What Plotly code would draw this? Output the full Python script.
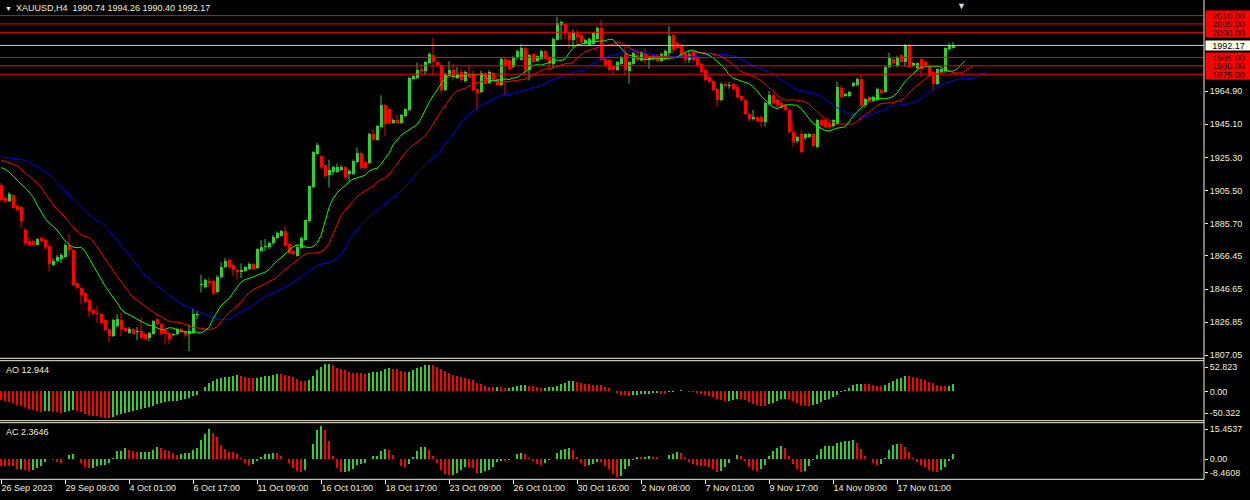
import numpy as np
import pandas as pd
import plotly.graph_objects as go

# ---------------- data ----------------
opens = [
 1908.6,1901.0,1899.2,1902.6,1896.0,1895.6,1882.0,1875.6,1875.2,1873.2,
 1877.2,1876.0,1872.6,1861.2,1863.6,1864.6,1866.0,1873.2,1870.0,1850.0,
 1847.2,1844.0,1840.0,1834.0,1832.0,1832.0,1828.0,1822.6,1818.6,1824.6,
 1828.0,1823.6,1820.6,1822.6,1821.2,1821.6,1820.0,1817.6,1820.0,1828.6,
 1826.0,1822.0,1820.6,1819.2,1819.6,1822.6,1821.6,1820.0,1820.6,1831.2,
 1848.8,1848.0,1851.6,1851.2,1844.6,1853.6,1859.6,1864.0,1861.2,1858.0,
 1856.6,1857.6,1858.6,1861.6,1859.0,1869.6,1871.6,1871.6,1874.0,1877.2,
 1878.6,1881.2,1873.6,1869.2,1866.6,1871.2,1876.0,1887.2,1907.6,1927.6,
 1925.9,1920.7,1914.7,1916.3,1916.7,1917.9,1919.3,1915.3,1915.3,1922.3,
 1927.9,1922.7,1921.9,1939.3,1935.9,1943.3,1956.7,1953.9,1945.9,1947.9,
 1945.9,1949.9,1953.3,1971.9,1972.7,1978.0,1976.7,1981.9,1986.7,1982.0,
 1980.3,1965.3,1974.3,1977.3,1972.7,1976.3,1970.7,1975.3,1974.3,1965.9,
 1964.3,1975.7,1969.7,1975.7,1972.3,1968.3,1984.3,1983.3,1979.3,1985.3,
 1983.7,1990.9,1977.3,1986.9,1982.9,1984.3,1988.9,1985.3,1981.3,1995.7,
 2004.3,2004.9,1999.7,1995.7,1998.9,1998.3,1993.3,1992.3,1993.3,1996.3,
 2002.3,1984.3,1983.3,1979.7,1977.7,1981.3,1987.3,1976.9,1981.3,1986.3,
 1983.3,1987.3,1983.3,1984.7,1986.3,1982.9,1985.7,1987.7,1998.3,1993.7,
 1992.3,1987.7,1983.7,1988.3,1984.9,1981.3,1977.7,1973.3,1970.9,1966.3,
 1959.3,1969.3,1967.7,1968.9,1967.3,1961.7,1959.7,1951.3,1948.3,1949.7,
 1949.7,1946.3,1956.9,1962.3,1959.3,1957.7,1956.3,1953.7,1940.3,1934.9,
 1939.4,1937.0,1937.4,1939.4,1931.4,1947.8,1947.4,1945.8,1943.8,1945.4,
 1967.0,1962.0,1961.8,1967.8,1968.4,1972.4,1956.4,1961.4,1959.0,1959.4,
 1965.8,1964.4,1979.0,1983.8,1979.8,1986.4,1982.4,1992.4,1979.8,1978.4,
 1983.8,1982.4,1979.8,1976.4,1969.0,1976.4,1976.4,1989.8,1990.74]
highs = [
 1910.0,1902.0,1904.5,1903.0,1897.0,1896.0,1883.0,1877.6,1876.0,1877.0,
 1878.0,1877.0,1873.0,1865.0,1867.0,1868.0,1874.0,1879.6,1870.5,1850.5,
 1847.5,1844.5,1840.5,1834.5,1836.6,1832.5,1828.5,1823.0,1829.0,1831.6,
 1832.6,1824.0,1824.0,1823.5,1824.0,1829.6,1820.5,1821.0,1828.0,1829.0,
 1826.5,1822.5,1821.0,1820.5,1823.5,1823.6,1822.0,1825.6,1835.0,1833.6,
 1855.2,1853.0,1854.0,1852.0,1855.0,1862.6,1865.2,1865.0,1862.0,1858.5,
 1862.0,1860.5,1862.5,1862.0,1871.0,1876.0,1876.6,1875.0,1879.0,1881.0,
 1882.0,1884.2,1874.0,1870.0,1873.0,1878.0,1888.0,1908.5,1929.0,1934.0,
 1926.5,1921.0,1923.9,1920.3,1921.6,1920.7,1920.0,1918.3,1924.0,1931.3,
 1929.0,1923.3,1940.0,1942.3,1944.6,1962.3,1957.3,1954.5,1948.6,1950.7,
 1951.3,1954.6,1973.3,1974.6,1981.9,1981.3,1983.0,1988.0,1996.7,1982.3,
 1981.0,1976.0,1982.7,1981.3,1979.3,1978.3,1977.3,1980.3,1977.3,1966.3,
 1977.0,1976.3,1977.3,1976.3,1973.0,1985.3,1985.3,1984.0,1986.0,1989.7,
 1992.9,1991.3,1987.0,1987.3,1986.3,1989.7,1989.3,1986.0,1997.0,2009.3,
 2007.0,2005.5,2000.3,2001.7,2001.7,1999.0,1996.3,1997.0,2000.0,2003.7,
 2007.3,1985.0,1984.0,1980.3,1983.0,1986.0,1991.7,1983.0,1988.3,1987.0,
 1989.0,1990.3,1986.0,1987.0,1987.0,1988.0,1989.7,2003.7,1999.0,1994.9,
 1993.3,1988.3,1988.9,1988.9,1985.5,1982.0,1978.3,1974.0,1971.5,1967.0,
 1970.0,1970.3,1970.3,1969.5,1968.9,1962.3,1960.3,1952.0,1953.7,1950.3,
 1950.3,1958.3,1964.9,1963.0,1960.3,1959.7,1957.0,1954.3,1946.3,1938.3,
 1941.4,1939.8,1940.0,1940.0,1948.4,1948.4,1948.4,1946.4,1948.0,1970.4,
 1968.4,1964.0,1965.0,1970.4,1973.0,1974.4,1961.0,1962.0,1962.0,1967.0,
 1966.4,1980.0,1987.8,1984.4,1986.0,1987.0,1993.0,1993.0,1982.4,1982.0,
 1984.4,1983.0,1980.4,1977.0,1978.4,1978.4,1991.0,1993.8,1994.26]
lows = [
 1899.0,1898.0,1898.5,1894.5,1893.0,1883.6,1872.6,1872.6,1872.5,1872.8,
 1874.5,1870.0,1857.2,1860.5,1863.0,1862.0,1865.5,1866.6,1848.5,1846.5,
 1837.6,1838.0,1830.0,1831.0,1826.6,1826.0,1821.5,1814.6,1818.0,1823.6,
 1818.6,1821.0,1820.0,1819.5,1816.0,1817.0,1816.0,1815.6,1819.5,1825.0,
 1819.0,1813.6,1813.6,1818.6,1819.0,1820.5,1818.0,1809.6,1820.0,1828.6,
 1844.6,1847.0,1847.6,1843.0,1844.0,1853.0,1859.0,1859.0,1854.6,1852.6,
 1853.2,1857.0,1858.0,1858.0,1858.5,1868.6,1869.2,1870.5,1873.0,1876.5,
 1878.0,1872.0,1867.5,1867.0,1866.0,1870.6,1875.6,1886.6,1907.0,1927.0,
 1918.5,1913.0,1907.3,1914.7,1916.0,1917.3,1912.3,1911.3,1914.7,1921.6,
 1918.0,1918.0,1921.3,1935.3,1935.3,1942.6,1937.9,1945.3,1945.3,1945.3,
 1945.3,1949.3,1952.7,1971.3,1972.0,1974.7,1974.7,1981.3,1974.3,1979.7,
 1963.7,1964.7,1973.7,1971.3,1972.0,1970.7,1970.0,1972.7,1964.7,1953.3,
 1963.7,1968.7,1969.0,1971.0,1967.7,1967.7,1962.3,1977.7,1978.7,1983.3,
 1983.3,1974.3,1971.3,1981.7,1982.3,1983.7,1983.7,1977.3,1978.3,1995.0,
 1995.7,1995.7,1990.3,1990.9,1991.0,1993.7,1992.7,1991.7,1992.7,1995.7,
 1982.7,1979.7,1977.0,1974.9,1977.0,1980.7,1974.3,1969.3,1980.7,1983.0,
 1982.7,1981.3,1978.3,1983.3,1982.3,1982.3,1983.7,1985.3,1987.3,1990.3,
 1985.0,1981.3,1981.7,1982.7,1979.7,1975.7,1971.0,1969.7,1964.7,1955.7,
 1958.7,1966.3,1966.3,1965.7,1960.7,1958.7,1950.7,1946.3,1947.3,1946.7,
 1943.7,1943.7,1956.3,1957.0,1954.9,1954.3,1953.0,1939.7,1931.7,1933.7,
 1927.8,1935.4,1936.8,1931.2,1930.8,1943.8,1942.8,1942.0,1943.2,1944.8,
 1960.8,1961.4,1961.2,1967.2,1967.8,1955.4,1955.0,1957.8,1958.4,1958.8,
 1963.2,1963.8,1978.4,1981.2,1979.2,1981.8,1979.4,1978.8,1979.2,1977.8,
 1973.4,1979.2,1973.8,1965.4,1968.4,1975.8,1975.8,1989.0,1990.40]
closes = [
 1899.6,1899.0,1903.6,1895.2,1894.0,1887.2,1874.0,1873.2,1873.2,1876.6,
 1875.2,1872.0,1861.6,1863.6,1866.0,1867.2,1873.2,1870.0,1849.2,1847.2,
 1843.2,1838.6,1833.6,1831.6,1831.6,1826.6,1822.0,1818.6,1828.0,1828.6,
 1822.6,1821.6,1822.6,1820.0,1821.6,1817.6,1816.6,1820.6,1827.6,1825.6,
 1819.6,1819.6,1816.6,1820.0,1822.6,1821.6,1819.2,1821.6,1832.0,1832.0,
 1849.4,1852.0,1850.0,1844.0,1854.0,1860.0,1863.6,1859.6,1858.0,1856.6,
 1858.0,1859.6,1861.6,1858.6,1870.6,1872.0,1872.6,1874.0,1878.0,1880.0,
 1881.6,1872.6,1868.0,1867.6,1872.0,1877.2,1887.6,1908.0,1928.6,1932.6,
 1919.3,1914.3,1917.9,1919.3,1919.3,1919.3,1913.3,1917.3,1923.3,1927.9,
 1918.7,1918.7,1939.3,1935.9,1943.9,1956.7,1945.3,1945.9,1947.9,1945.9,
 1950.7,1953.9,1972.7,1973.9,1977.3,1976.7,1982.3,1987.3,1982.3,1980.3,
 1965.3,1975.3,1977.3,1973.3,1975.3,1971.3,1976.3,1973.3,1965.3,1963.9,
 1976.0,1969.3,1976.3,1971.7,1968.3,1984.3,1980.3,1978.3,1985.3,1988.9,
 1990.9,1977.7,1986.3,1982.3,1985.7,1988.9,1984.3,1981.3,1996.3,2005.7,
 2006.3,1999.3,1995.7,1999.3,1997.3,1994.3,1995.7,1996.3,1999.3,2002.3,
 1983.3,1980.3,1977.7,1977.7,1982.3,1985.3,1977.3,1982.3,1987.7,1983.7,
 1988.3,1983.7,1985.3,1985.7,1982.9,1987.3,1988.9,1997.7,1989.3,1990.9,
 1985.7,1983.7,1986.9,1983.3,1980.3,1976.3,1971.7,1970.3,1965.3,1959.3,
 1969.3,1967.7,1968.3,1966.3,1961.3,1959.3,1951.3,1948.3,1949.7,1947.3,
 1946.3,1957.7,1962.3,1957.7,1956.3,1954.9,1953.7,1940.3,1934.3,1937.7,
 1928.4,1939.0,1939.4,1931.8,1947.8,1944.4,1943.4,1943.4,1947.4,1967.4,
 1961.4,1963.4,1964.2,1969.8,1972.4,1956.4,1960.4,1958.4,1961.4,1966.4,
 1963.8,1979.4,1984.4,1981.8,1985.4,1982.4,1992.4,1979.4,1981.8,1981.4,
 1977.8,1979.8,1974.4,1969.4,1977.8,1977.8,1990.4,1991.8,1992.17]

# Alligator values visible at the left edge (computed from bars before the window)
jaw_seed = [1925.6, 1925.4, 1925.2, 1925.0, 1924.4, 1924.0, 1923.6, 1922.6]
teeth_seed = [1923.6, 1923.0, 1922.2, 1921.2, 1920.2]
lips_seed = [1919.2, 1918.2, 1916.6]

# AO / AC values at the left edge (need bars before the window)
ao_head = [-15.0, -16.1, -19.0, -20.7, -23.0, -24.8, -27.6, -30.5, -32.3, -33.4,
           -34.6, -34.0, -33.4, -34.6, -35.7, -36.3, -35.1, -33.4, -32.3, -34.0,
           -35.7, -38.0, -39.7, -41.5, -42.6, -43.8, -44.9, -45.5, -43.8, -40.3,
           -39.2, -36.3, -35.1]
ac_head = [-2.8, -3.1, -3.1, -3.1]

time_labels = ["26 Sep 2023", "29 Sep 09:00", "4 Oct 01:00", "6 Oct 17:00", "11 Oct 09:00",
               "16 Oct 01:00", "18 Oct 17:00", "23 Oct 09:00", "26 Oct 01:00", "30 Oct 16:00",
               "2 Nov 08:00", "7 Nov 01:00", "9 Nov 17:00", "14 Nov 09:00", "17 Nov 01:00"]
label_step = 16

price_ticks = [1964.90, 1945.10, 1925.30, 1905.50, 1885.70, 1866.45, 1846.65, 1826.85, 1807.05]
level_lines = [2010.00, 2005.00, 2000.00, 1985.00, 1980.00, 1975.00]
bid_price = 1992.17
main_range = [1805.26, 2019.31]
ao_range = [-50.322, 52.823]
ac_range = [-8.4608, 15.4537]
header = "XAUUSD,H4\u00a0\u00a01990.74 1994.26 1990.40 1992.17"
ao_title = "AO 12.944"
ac_title = "AC 2.3646"

# ---------------- derived series ----------------
O = np.array(opens); H = np.array(highs); L = np.array(lows); C = np.array(closes)
n = len(C)
idx = np.arange(n)
med = (H + L) / 2.0


def smma_line(seed, period, price):
    out = list(seed)
    prev = seed[-1]
    for p in price:
        prev = (prev * (period - 1) + p) / period
        out.append(prev)
    return np.array(out)


jaw = smma_line(jaw_seed, 13, med)
teeth = smma_line(teeth_seed, 8, med)
lips = smma_line(lips_seed, 5, med)

ms = pd.Series(med)
ao = (ms.rolling(5).mean() - ms.rolling(34).mean()).to_numpy()
ao[:len(ao_head)] = ao_head
aos = pd.Series(ao)
ac = (aos - aos.rolling(5).mean()).to_numpy()
ac[:len(ac_head)] = ac_head

GREEN = "#32CD32"
RED = "#FF0000"
CREAM = "#F2EFD8"
FONT = "Liberation Sans, Arial, sans-serif"


def updown_colors(v):
    cols = [RED]
    for i in range(1, len(v)):
        cols.append(GREEN if v[i] > v[i - 1] else RED)
    return cols


fig = go.Figure()

# wicks
for mask, col in [(C >= O, GREEN), (C < O, RED)]:
    xs, ys = [], []
    for i in idx[mask]:
        xs += [i, i, None]
        ys += [L[i], H[i], None]
    fig.add_trace(go.Scatter(x=xs, y=ys, mode="lines", line=dict(color=col, width=1),
                             hoverinfo="skip", yaxis="y"))

# bodies
body_cols = np.where(C >= O, GREEN, RED)
fig.add_trace(go.Bar(x=idx, y=np.maximum(np.abs(C - O), 0.6), base=np.minimum(O, C),
                     width=0.75, marker=dict(color=body_cols, line=dict(width=0)),
                     yaxis="y", hoverinfo="skip"))

# alligator
for line, col in [(jaw, "#0000FF"), (teeth, "#FF0000"), (lips, "#00FF00")]:
    fig.add_trace(go.Scatter(x=np.arange(len(line)), y=line, mode="lines",
                             line=dict(color=col, width=1), yaxis="y", hoverinfo="skip"))

# AO / AC histograms
fig.add_trace(go.Bar(x=idx, y=ao, width=0.45, marker=dict(color=updown_colors(ao), line=dict(width=0)),
                     yaxis="y2", hoverinfo="skip"))
fig.add_trace(go.Bar(x=idx, y=ac, width=0.45, marker=dict(color=updown_colors(ac), line=dict(width=0)),
                     yaxis="y3", hoverinfo="skip"))

# pixel layout of panels (plot area height 479)
PH = 479.0
def pf(p):
    return (PH - p) / PH

main_dom = [pf(358.3), 1.0]
ao_dom = [pf(420.7), pf(360.7)]
ac_dom = [0.0, pf(422.7)]


def pos_in(rng, dom_px_top, dom_px_bot, px):
    # value sitting at pixel px inside a panel (for MT4-style inset scale labels)
    frac = (px - dom_px_top) / (dom_px_bot - dom_px_top)
    return rng[1] - frac * (rng[1] - rng[0])


ao_ticks = [pos_in(ao_range, 360.7, 420.7, 367.3), 0.0, pos_in(ao_range, 360.7, 420.7, 413.3)]
ao_text = ["%.3f" % ao_range[1], "0.00", "%.3f" % ao_range[0]]
ac_ticks = [pos_in(ac_range, 422.7, 479.3, 429.3), 0.0, pos_in(ac_range, 422.7, 479.3, 472.7)]
ac_text = ["%.4f" % ac_range[1], "0.00", "%.4f" % ac_range[0]]

tick_font = dict(family=FONT, size=9, color=CREAM)
yax_common = dict(side="right", anchor="x", showgrid=False, zeroline=False, ticks="outside",
                  ticklen=3, tickcolor=CREAM, tickfont=tick_font, showline=False, fixedrange=True)

fig.update_layout(
    width=1250, height=500,
    margin=dict(l=0, r=46, t=0, b=21, autoexpand=False),
    paper_bgcolor="#000000", plot_bgcolor="#000000",
    showlegend=False, barmode="overlay", bargap=0,
    xaxis=dict(domain=[0, 1], range=[-0.25, 300.75], anchor="y3", showgrid=False, zeroline=False,
               tickvals=[k * label_step for k in range(len(time_labels))], ticktext=time_labels,
               ticks="outside", ticklen=4, tickcolor=CREAM, tickfont=tick_font,
               ticklabelposition="outside right", showline=False, fixedrange=True),
    yaxis=dict(domain=main_dom, range=main_range, tickvals=price_ticks,
               ticktext=["%.2f" % v for v in price_ticks], **yax_common),
    yaxis2=dict(domain=ao_dom, range=ao_range, tickvals=ao_ticks, ticktext=ao_text, **yax_common),
    yaxis3=dict(domain=ac_dom, range=ac_range, tickvals=ac_ticks, ticktext=ac_text, **yax_common),
)

shapes = []
for v in level_lines:
    shapes.append(dict(type="line", xref="paper", x0=0, x1=1, yref="y", y0=v, y1=v,
                       line=dict(color=RED, width=1)))
shapes.append(dict(type="line", xref="paper", x0=0, x1=1, yref="y", y0=bid_price, y1=bid_price,
                   line=dict(color="#C8C8C8", width=1)))
# panel borders
for p in [358.3, 360.7, 420.7, 422.7, 479.3]:
    shapes.append(dict(type="line", xref="paper", x0=0, x1=1, yref="paper", y0=pf(p), y1=pf(p),
                       line=dict(color=CREAM, width=1)))
shapes.append(dict(type="line", xref="paper", x0=1, x1=1, yref="paper", y0=pf(479.3), y1=1,
                   line=dict(color=CREAM, width=1)))
fig.update_layout(shapes=shapes)

ann = []
ann.append(dict(text="\u25BC", xref="paper", yref="paper", x=0, y=1, xanchor="left", yanchor="top",
                xshift=3, yshift=-3, showarrow=False, font=dict(family=FONT, size=7, color=CREAM)))
ann.append(dict(text=header, xref="paper", yref="paper", x=0, y=1, xanchor="left", yanchor="top",
                xshift=14, yshift=-1, showarrow=False, font=dict(family=FONT, size=9, color=CREAM)))
ann.append(dict(text="\u25BC", xref="paper", yref="paper", x=961 / 1204, y=1, xanchor="center",
                yanchor="top", yshift=1, showarrow=False, font=dict(family=FONT, size=9, color="#D8D8D8")))
ann.append(dict(text=ao_title, xref="paper", yref="y2 domain", x=0, y=1, xanchor="left", yanchor="top",
                xshift=4, yshift=-2, showarrow=False, font=dict(family=FONT, size=9, color=CREAM)))
ann.append(dict(text=ac_title, xref="paper", yref="y3 domain", x=0, y=1, xanchor="left", yanchor="top",
                xshift=4, yshift=-2, showarrow=False, font=dict(family=FONT, size=9, color=CREAM)))
for v in level_lines:
    ann.append(dict(text="%.2f" % v, xref="paper", yref="y", x=1, y=v, xanchor="left", yanchor="middle",
                    xshift=1, showarrow=False, bgcolor=RED, borderpad=0, width=45, height=9,
                    align="center", font=dict(family=FONT, size=9, color="#000000")))
ann.append(dict(text="%.2f" % bid_price, xref="paper", yref="y", x=1, y=bid_price, xanchor="left",
                yanchor="middle", xshift=1, showarrow=False, bgcolor="#FFFFE8", borderpad=0, width=45,
                height=9, align="center", font=dict(family=FONT, size=9, color="#000000")))
fig.update_layout(annotations=ann)

fig.write_html("out.html", config={"displayModeBar": False, "staticPlot": True},
               post_script="document.body.style.margin='0';document.body.style.background='#000';")
